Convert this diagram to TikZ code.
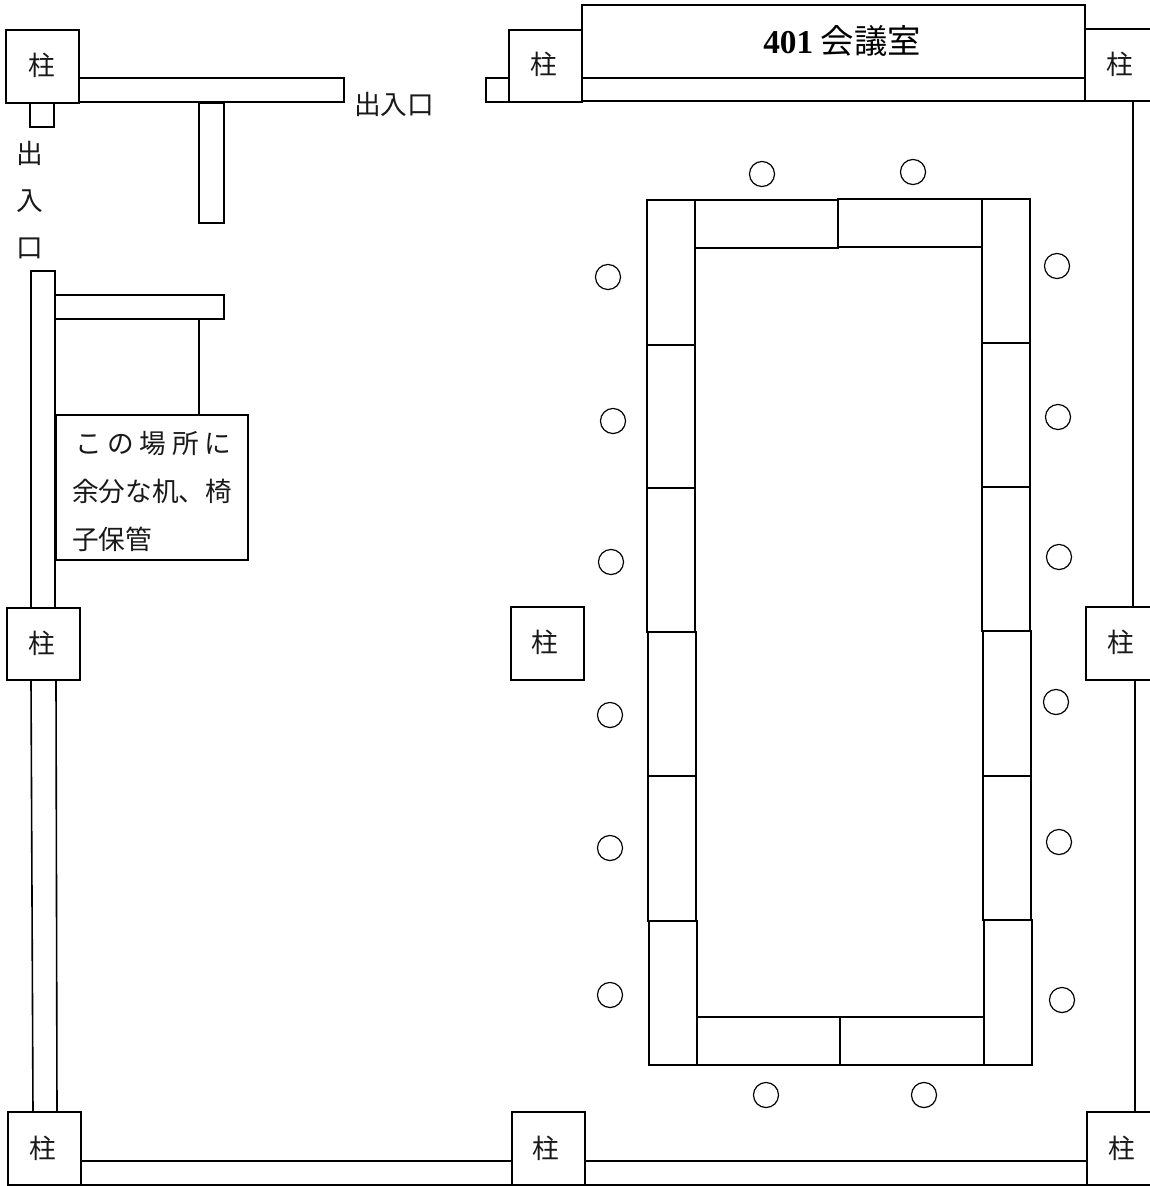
\documentclass[tikz,border=0pt]{standalone}
\usepackage{fontspec}
\setmainfont{Noto Sans CJK JP}
\newfontfamily\latinbold{Liberation Serif}[BoldFont={Liberation Serif Bold}]
\tikzset{
  wall/.style={draw=black,line width=1.2pt,fill=white},
  seat/.style={circle,draw=black,line width=0.9pt,fill=white,inner sep=0pt,minimum size=18.8pt},
  lbl/.style={inner sep=0pt,font=\fontsize{20pt}{20pt}\selectfont,text=black!90},
  title/.style={inner sep=0pt,font=\fontsize{25pt}{25pt}\selectfont,text=black},
}
\begin{document}
\begin{tikzpicture}[x=0.75pt,y=-0.75pt]
\useasboundingbox (0,0) rectangle (1150,1186);
\clip (0,0) rectangle (1150,1186);
\fill[white] (0,0) rectangle (1150,1186);
% walls top-left
\draw[wall] (79,78) rectangle (344,102);
\draw[wall] (30,103) rectangle (54,127);
\draw[wall] (199,103) rectangle (224,223);
% left wall
\draw[wall] (31,271) rectangle (55,608);
\draw[wall] (31,680) -- (56,680) -- (57,1112) -- (33,1112) -- cycle;
\draw[wall] (55,295) rectangle (224,319);
\draw[wall] (199,319) -- (199,415);
\draw[wall] (56,415) rectangle (248,560);
% top
\draw[wall] (486,78) rectangle (509,102);
\draw[wall] (582,5) rectangle (1085,78);
\draw[wall] (582,78) rectangle (1085,101);
% right wall
\draw[wall] (1133,101) -- (1133,607);
\draw[wall] (1135,680) -- (1135,1112);
% bottom wall
\draw[wall] (81,1161) rectangle (512,1185);
\draw[wall] (585,1161) rectangle (1087,1185);
% pillars
\draw[wall] (6,30) rectangle (79,103);
\draw[wall] (509,30) rectangle (582,102);
\draw[wall] (1085,29) rectangle (1160,101);
\draw[wall] (7,608) rectangle (80,680);
\draw[wall] (511,607) rectangle (584,680);
\draw[wall] (1086,607) rectangle (1160,680);
\draw[wall] (8,1112) rectangle (81,1185);
\draw[wall] (512,1112) rectangle (585,1185);
\draw[wall] (1087,1112) rectangle (1160,1185);
\node[lbl] (p1) at (42,65) {柱};
\node[lbl] (p2) at (544,64) {柱};
\node[lbl] (p3) at (1120,64) {柱};
\node[lbl] (p4) at (42,643) {柱};
\node[lbl] (p5) at (545,642) {柱};
\node[lbl] (p6) at (1121,642) {柱};
\node[lbl] (p7) at (43,1148) {柱};
\node[lbl] (p8) at (546,1148) {柱};
\node[lbl] (p9) at (1122,1148) {柱};
% table left column
\draw[wall] (647,200) rectangle (695,345);
\draw[wall] (647,345) rectangle (695,488);
\draw[wall] (647,488) rectangle (695,632);
\draw[wall] (648,632) rectangle (696,776);
\draw[wall] (648,776) rectangle (696,921);
\draw[wall] (649,921) rectangle (697,1065);
% table right column
\draw[wall] (982,199) rectangle (1030,343);
\draw[wall] (982,343) rectangle (1030,487);
\draw[wall] (982,487) rectangle (1030,631);
\draw[wall] (983,631) rectangle (1031,776);
\draw[wall] (983,776) rectangle (1031,920);
\draw[wall] (984,920) rectangle (1032,1065);
% table top, bottom
\draw[wall] (695,200) rectangle (838,248);
\draw[wall] (838,199) rectangle (982,247);
\draw[wall] (697,1017) rectangle (840,1065);
\draw[wall] (840,1017) rectangle (984,1065);
% seats
\node[seat] (s1) at (762,174) {};
\node[seat] (s2) at (913,172) {};
\node[seat] (s3) at (608,277) {};
\node[seat] (s4) at (1057,266) {};
\node[seat] (s5) at (613,421) {};
\node[seat] (s6) at (1058,417) {};
\node[seat] (s7) at (611,562) {};
\node[seat] (s8) at (1059,557) {};
\node[seat] (s9) at (610,715) {};
\node[seat] (s10) at (1056,702) {};
\node[seat] (s11) at (610,848) {};
\node[seat] (s12) at (1059,842) {};
\node[seat] (s13) at (610,995) {};
\node[seat] (s14) at (1062,1000) {};
\node[seat] (s15) at (766,1095) {};
\node[seat] (s16) at (924,1095) {};
% texts
\node[lbl] (t1) at (394,104) {出入口};
\node[lbl] (t2) at (30,153) {出};
\node[lbl] (t3) at (30,201) {入};
\node[lbl] (t4) at (30,248) {口};
\node[title] (room) at (842,41) {{\latinbold\bfseries 401} 会議室};
\node[lbl,anchor=west] (b1) at (75,444) {\makebox[117pt][s]{こ\hfill の\hfill 場\hfill 所\hfill に}};
\node[lbl,anchor=west] (b2) at (72,491) {余分な机、椅};
\node[lbl,anchor=west] (b3) at (72,539) {子保管};
\end{tikzpicture}
\end{document}
